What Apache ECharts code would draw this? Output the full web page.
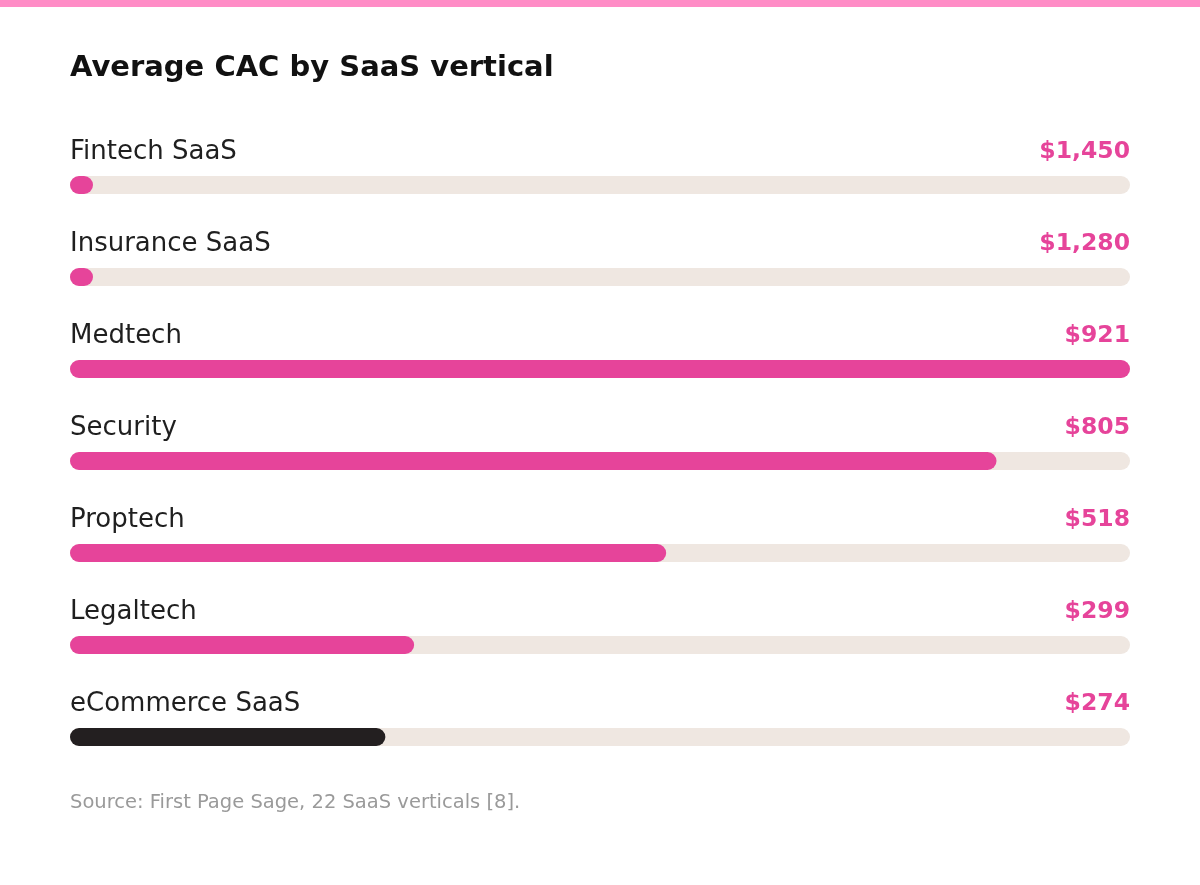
<!DOCTYPE html>
<html><head><meta charset="utf-8">
<script src="https://cdn.jsdelivr.net/npm/echarts@6/dist/echarts.min.js"></script>
<style>html,body{margin:0;padding:0;background:#fff}#c{width:1200px;height:885px}</style>
</head><body><div id="c"></div>
<script>
const categories = ["Fintech SaaS","Insurance SaaS","Medtech","Security","Proptech","Legaltech","eCommerce SaaS"];
const cacValues = [1450, 1280, 921, 805, 518, 299, 274];
const valueLabels = ["$1,450","$1,280","$921","$805","$518","$299","$274"];
// bar lengths as drawn in the picture (first two rows show only a small stub)
const barLengths = [20, 20, 921, 805, 518, 299, 274];
const barColors = ["#e6449a","#e6449a","#e6449a","#e6449a","#e6449a","#e6449a","#231f20"];
const axisMax = 921;

const FONT = "DejaVu Sans";
const chart = echarts.init(document.getElementById('c'), null, {renderer:'canvas'});
chart.setOption({
  animation:false,
  backgroundColor:'#ffffff',
  graphic:[{type:'rect',left:0,top:0,shape:{width:1200,height:7},style:{fill:'#ff8cc6'}}],
  title:[
    {text:'Average CAC by SaaS vertical',left:70,top:54,padding:0,textStyle:{fontFamily:FONT,fontWeight:'bold',fontSize:29,color:'#111111'}},
    {text:'Source: First Page Sage, 22 SaaS verticals [8].',left:70,top:793,padding:0,textStyle:{fontFamily:FONT,fontWeight:'normal',fontSize:19.5,color:'#9a9a9a'}}
  ],
  grid:{left:70,right:70,top:139,bottom:102,containLabel:false},
  xAxis:{type:'value',min:0,max:axisMax,show:false},
  yAxis:{type:'category',data:categories,inverse:true,show:false},
  series:[
    {type:'bar',barWidth:18,silent:true,
     data:categories.map(()=>axisMax),
     itemStyle:{color:'#efe7e1',borderRadius:9},
     label:{show:true,position:[1060,-12],align:'right',verticalAlign:'bottom',
       formatter:p=>valueLabels[p.dataIndex],
       fontFamily:FONT,fontWeight:'bold',fontSize:23.5,color:'#e6449a'}},
    {type:'bar',barWidth:18,barGap:'-100%',silent:true,
     data:barLengths.map((v,i)=>({value:v,itemStyle:{color:barColors[i]}})),
     itemStyle:{borderRadius:9},
     label:{show:true,position:[0,-11],align:'left',verticalAlign:'bottom',
       formatter:p=>categories[p.dataIndex],
       fontFamily:FONT,fontWeight:'normal',fontSize:26,color:'#1f1f1f'}}
  ]
});
</script></body></html>
